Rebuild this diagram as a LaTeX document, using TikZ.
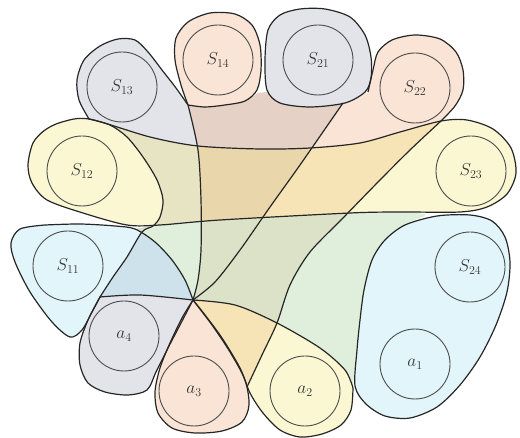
\documentclass[tikz,border=0pt]{standalone}
\begin{document}
\definecolor{gfill}{RGB}{160,165,185}
\definecolor{pfill}{RGB}{235,165,115}
\definecolor{yfill}{RGB}{242,228,110}
\definecolor{bfill}{RGB}{160,222,242}
\begin{tikzpicture}[x=1pt,y=-1pt,
  edge/.style={draw=black!85, line width=1.2pt},
  hyp/.style={fill opacity=0.3},
  vtx/.style={circle, draw=black!70, line width=0.9pt, minimum size=70pt, inner sep=0pt,
    font=\fontsize{18}{20}\selectfont, text=black!80}]
\useasboundingbox (0,0) rectangle (520,438);
% ---------------- fills ----------------
% gray hyperedge {S13, S21, a4}
\fill[gfill,hyp]
  plot[smooth] coordinates {(89,119) (79,100) (77,80) (84,60) (100,46) (118,39) (135,40) (148,52) (162,70) (176,88) (188,105)}
  -- plot[smooth] coordinates {(188,105) (197,145)}
  -- plot[smooth] coordinates {(197,145) (150,137) (110,125) (89,119)} -- cycle
  plot[smooth cycle] coordinates {(267,90) (265,60) (268,30) (280,15) (300,9) (325,9) (350,17) (365,35) (371,57) (371,78) (365,92) (345,103) (310,107) (280,103)}
  plot[smooth] coordinates {(188,105) (205,107) (228,105) (247,100) (258,93)}
  -- plot[smooth] coordinates {(267,92) (280,103) (310,107) (343,103)}
  -- plot[smooth] coordinates {(343,103) (300,165) (266,213)}
  -- plot[smooth] coordinates {(266,217) (220,220) (160,225) (135,229)}
  -- plot[smooth] coordinates {(135,229) (155,242) (172,260) (185,280) (193,300)}
  -- plot[smooth] coordinates {(193,300) (140,295) (100,297)}
  -- plot[smooth] coordinates {(100,297) (113,277) (127,257) (142,232) (153,226) (160,217) (163,200) (157,180) (143,157) (127,137) (110,125) (89,119)}
  -- cycle
  plot[smooth] coordinates {(100,297) (140,295) (193,300)}
  -- plot[smooth] coordinates {(193,300) (180,325) (168,348) (156,372) (147,390) (128,395) (105,392) (88,383) (80,365) (80,343) (88,320) (100,297)} -- cycle;
% peach hyperedge {S14, S22, a3}
\fill[pfill,hyp]
  plot[smooth] coordinates {(188,105) (181,85) (175,60) (176,38) (188,22) (210,13) (235,14) (252,25) (260,45) (261,70) (257,90) (245,101) (225,105) (205,107) (188,105)} -- cycle
  plot[smooth] coordinates {(368,92) (373,70) (378,52) (392,40) (415,35) (440,39) (456,52) (463,70) (463,90) (455,106) (441,121)} -- (400,118) -- cycle
  plot[smooth] coordinates {(188,105) (205,107) (228,105) (247,100) (258,93)}
  -- plot[smooth] coordinates {(267,92) (280,103) (310,107) (345,103) (368,92)}
  -- (441,121)
  -- plot[smooth] coordinates {(441,121) (410,150) (380,180) (343,218) (310,252) (290,285) (277,323) (262,355) (247,387)}
  -- plot[smooth] coordinates {(247,387) (235,360) (215,330) (193,300)}
  -- plot[smooth] coordinates {(193,300) (198,280) (201,250) (201,200) (198,150) (188,105)} -- cycle
  plot[smooth] coordinates {(193,300) (212,325) (230,352) (245,380) (249,405) (242,422) (222,431) (195,433) (172,428) (158,413) (155,392) (160,368) (170,343) (182,318) (193,300)} -- cycle;
% yellow hyperedge {S12, S23, a2}
\fill[yfill,hyp]
  plot[smooth cycle] coordinates {(28,165) (33,143) (45,130) (62,122) (89,119) (150,137) (198,146) (260,149) (310,148) (360,143) (400,132) (441,121) (467,120) (493,129) (511,148) (516,173) (507,194) (487,207) (460,212) (400,212) (350,213) (220,220) (160,225) (127,225) (83,213) (47,200) (32,183)}
  plot[smooth] coordinates {(135,229) (160,225) (220,220) (350,213) (400,212) (425,214)}
  -- plot[smooth] coordinates {(425,216) (405,225) (385,240) (372,260) (364,290) (360,320) (357,350) (353,385)}
  -- plot[smooth] coordinates {(353,385) (345,370) (320,348) (277,323) (235,305) (193,300)}
  -- plot[smooth] coordinates {(193,300) (185,280) (172,260) (155,242) (135,229)} -- cycle
  plot[smooth] coordinates {(193,300) (235,305) (277,323) (320,348) (345,370) (353,388)}
  -- plot[smooth] coordinates {(353,388) (351,410) (341,425) (322,434) (300,437) (280,430) (263,413) (250,393) (240,368) (222,338) (205,315) (193,300)} -- cycle;
% blue hyperedge {S11, S24, a1}
\fill[bfill,hyp]
  plot[smooth] coordinates {(45,225) (80,224) (115,226) (135,229) (155,242) (172,260) (185,280) (193,300)}
  -- plot[smooth] coordinates {(193,300) (140,295) (100,297)}
  -- plot[smooth] coordinates {(100,297) (92,312) (82,330) (70,337) (52,322) (30,292) (15,262) (11,243) (20,229) (45,225)} -- cycle
  plot[smooth] coordinates {(135,229) (160,225) (220,220) (350,213) (400,212) (425,214)}
  -- plot[smooth] coordinates {(425,216) (405,225) (385,240) (372,260) (364,290) (360,320) (357,350) (353,385)}
  -- plot[smooth] coordinates {(353,385) (345,370) (320,348) (277,323) (235,305) (193,300)}
  -- plot[smooth] coordinates {(193,300) (185,280) (172,260) (155,242) (135,229)} -- cycle
  plot[smooth cycle] coordinates {(405,225) (437,216) (470,215) (492,221) (505,237) (510,262) (507,292) (496,325) (480,357) (460,385) (437,407) (410,418) (385,416) (366,404) (355,386) (357,350) (360,320) (364,290) (372,260) (385,240)};
% ---------------- outlines ----------------
\draw[edge] plot[smooth] coordinates {(89,119) (79,100) (77,80) (84,60) (100,46) (118,39) (135,40) (148,52) (162,70) (176,88) (188,105)};
\draw[edge] plot[smooth] coordinates {(188,105) (181,85) (175,60) (176,38) (188,22) (210,13) (235,14) (252,25) (260,45) (261,70) (257,90) (245,101) (225,105) (205,107) (188,105)};
\draw[edge] plot[smooth cycle] coordinates {(267,90) (265,60) (268,30) (280,15) (300,9) (325,9) (350,17) (365,35) (371,57) (371,78) (365,92) (345,103) (310,107) (280,103)};
\draw[edge] plot[smooth] coordinates {(368,92) (373,70) (378,52) (392,40) (415,35) (440,39) (456,52) (463,70) (463,90) (455,106) (441,121)};
\draw[edge] plot[smooth cycle] coordinates {(28,165) (33,143) (45,130) (62,122) (89,119) (150,137) (198,146) (260,149) (310,148) (360,143) (400,132) (441,121) (467,120) (493,129) (511,148) (516,173) (507,194) (487,207) (460,212) (400,212) (350,213) (220,220) (160,225) (127,225) (83,213) (47,200) (32,183)};
\draw[edge] plot[smooth] coordinates {(89,119) (110,125) (127,137) (143,157) (157,180) (163,200) (160,217) (153,226) (142,232) (127,257) (113,277) (100,297)};
\draw[edge] plot[smooth] coordinates {(188,105) (198,150) (201,200) (201,250) (198,280) (193,300)};
\draw[edge] plot[smooth] coordinates {(343,103) (300,165) (270,207) (240,250) (215,282) (193,300)};
\draw[edge] plot[smooth] coordinates {(441,121) (410,150) (380,180) (343,218) (310,252) (290,285) (277,323) (262,355) (247,387)};
\draw[edge] plot[smooth] coordinates {(45,225) (80,224) (115,226) (135,229) (155,242) (172,260) (185,280) (193,300)}
  -- plot[smooth] coordinates {(193,300) (140,295) (100,297)}
  -- plot[smooth] coordinates {(100,297) (92,312) (82,330) (70,337) (52,322) (30,292) (15,262) (11,243) (20,229) (45,225)};
\draw[edge] plot[smooth] coordinates {(193,300) (180,325) (168,348) (156,372) (147,390) (128,395) (105,392) (88,383) (80,365) (80,343) (88,320) (100,297)};
\draw[edge] plot[smooth] coordinates {(193,300) (212,325) (230,352) (245,380) (249,405) (242,422) (222,431) (195,433) (172,428) (158,413) (155,392) (160,368) (170,343) (182,318) (193,300)};
\draw[edge] plot[smooth] coordinates {(193,300) (235,305) (277,323) (320,348) (345,370) (353,388)}
  -- plot[smooth] coordinates {(353,388) (351,410) (341,425) (322,434) (300,437) (280,430) (263,413) (250,393) (240,368) (222,338) (205,315) (193,300)};
\draw[edge] plot[smooth cycle] coordinates {(405,225) (437,216) (470,215) (492,221) (505,237) (510,262) (507,292) (496,325) (480,357) (460,385) (437,407) (410,418) (385,416) (366,404) (355,386) (357,350) (360,320) (364,290) (372,260) (385,240)};
% ---------------- vertices ----------------
\node[vtx] (s13) at (122,87) {$S_{13}$};
\node[vtx] (s14) at (218,60) {$S_{14}$};
\node[vtx] (s21) at (318,60) {$S_{21}$};
\node[vtx] (s22) at (415,88) {$S_{22}$};
\node[vtx] (s12) at (82,171) {$S_{12}$};
\node[vtx] (s23) at (471,171) {$S_{23}$};
\node[vtx] (s11) at (68,266) {$S_{11}$};
\node[vtx] (s24) at (470,267) {$S_{24}$};
\node[vtx] (a4) at (124,336) {$a_{4}$};
\node[vtx] (a3) at (194,391) {$a_{3}$};
\node[vtx] (a2) at (305,391) {$a_{2}$};
\node[vtx] (a1) at (415,364) {$a_{1}$};
\end{tikzpicture}
\end{document}
